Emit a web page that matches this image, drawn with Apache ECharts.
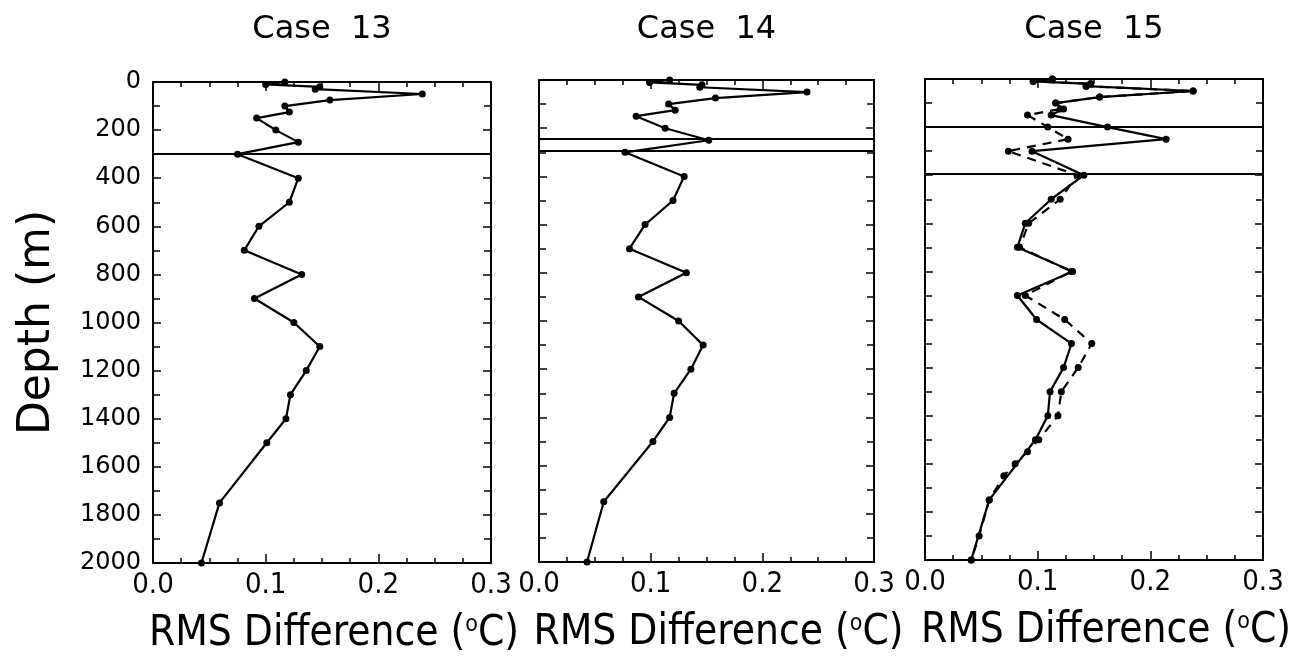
<!DOCTYPE html>
<html><head><meta charset="utf-8">
<script src="https://cdn.jsdelivr.net/npm/echarts@6/dist/echarts.min.js"></script>
<style>html,body{margin:0;padding:0;background:#fff}#c{width:1297px;height:664px}</style>
</head><body><div id="c"></div>
<script>
// ---- data ----
const titles = ['Case 13', 'Case 14', 'Case 15'];
const xTickLabels = ['0.0', '0.1', '0.2', '0.3'];
const yTickLabels = ['0', '200', '400', '600', '800', '1000', '1200', '1400', '1600', '1800', '2000'];
const depths = [0, 10, 20, 30, 50, 75, 100, 125, 150, 200, 250, 300, 400, 500, 600, 700, 800, 900, 1000, 1100, 1200, 1300, 1400, 1500, 1750, 2000];
const case13 = [0.117, 0.100, 0.148, 0.144, 0.239, 0.157, 0.117, 0.121, 0.092, 0.109, 0.129, 0.075, 0.129, 0.121, 0.094, 0.081, 0.132, 0.090, 0.125, 0.148, 0.136, 0.122, 0.118, 0.101, 0.059, 0.043];
const case14 = [0.117, 0.099, 0.146, 0.144, 0.240, 0.158, 0.116, 0.122, 0.087, 0.113, 0.152, 0.077, 0.130, 0.120, 0.095, 0.081, 0.132, 0.089, 0.125, 0.147, 0.136, 0.121, 0.117, 0.102, 0.058, 0.043];
const case15 = [0.113, 0.096, 0.147, 0.143, 0.238, 0.155, 0.116, 0.123, 0.112, 0.162, 0.214, 0.095, 0.141, 0.112, 0.089, 0.082, 0.131, 0.082, 0.099, 0.130, 0.123, 0.111, 0.109, 0.098, 0.057, 0.041];
const depths15b = [0, 10, 20, 30, 50, 75, 100, 125, 150, 200, 250, 300, 400, 500, 600, 700, 800, 900, 1000, 1100, 1200, 1300, 1400, 1500, 1550, 1600, 1650, 1750, 1900, 2000];
const case15b = [0.113, 0.096, 0.147, 0.143, 0.238, 0.155, 0.116, 0.120, 0.091, 0.109, 0.127, 0.074, 0.135, 0.120, 0.092, 0.084, 0.130, 0.089, 0.124, 0.148, 0.136, 0.121, 0.118, 0.101, 0.091, 0.080, 0.070, 0.057, 0.048, 0.041];
const bounds13 = [300];
const bounds14 = [245, 293];
const bounds15 = [200, 395];

// ---- layout ----
const grids = [
  {left: 153, top: 82, width: 338, height: 481},
  {left: 539, top: 80, width: 335, height: 482},
  {left: 925, top: 79, width: 338, height: 481}
].map(g => Object.assign(g, {containLabel: false, outerBoundsMode: 'none'}));
const narrow = "'Liberation Sans Narrow', 'DejaVu Sans Condensed', 'Arial Narrow', sans-serif";
const wide = "'DejaVu Sans', sans-serif";
const black = '#000';

const xAxes = [], yAxes = [];
grids.forEach((g, i) => {
  const common = {
    gridIndex: i, type: 'value', min: 0, max: 0.3, interval: 0.1,
    axisLine: {show: true, onZero: false, lineStyle: {color: black, width: 2}},
    axisTick: {show: true, inside: true, length: 9, lineStyle: {color: black, width: 1.5}},
    minorTick: {show: true, splitNumber: 4, length: 5, lineStyle: {color: black, width: 1.5}},
    splitLine: {show: false}
  };
  xAxes.push(Object.assign({}, common, {
    position: 'bottom',
    axisLabel: {show: true, color: black, fontSize: 29, fontFamily: narrow, margin: 8,
      formatter: (v, k) => xTickLabels[Math.round(v / 0.1)]},
    name: '{n|RMS Difference (}{s|o}{n|C)}',
    nameLocation: 'middle', nameGap: 50,
    nameTextStyle: {
      padding: [0, 0, 0, 24],
      rich: {
        n: {fontSize: 42, fontFamily: narrow, color: black},
        s: {fontSize: 23, fontFamily: narrow, color: black, padding: [0, 0, 17, 0]}
      }
    }
  }));
  xAxes.push(Object.assign({}, common, {position: 'top', axisLabel: {show: false}}));
  const ycommon = {
    gridIndex: i, type: 'value', inverse: true, min: 0, max: 2000, interval: 200,
    axisLine: {show: true, onZero: false, lineStyle: {color: black, width: 2}},
    axisTick: {show: true, inside: true, length: 8, lineStyle: {color: black, width: 1.5}},
    minorTick: {show: true, splitNumber: 2, length: 7, lineStyle: {color: black, width: 1.5}},
    splitLine: {show: false}
  };
  yAxes.push(Object.assign({}, ycommon, {
    position: 'left',
    axisLabel: {show: i === 0, color: black, fontSize: 24, fontFamily: wide, margin: 12,
      formatter: (v) => yTickLabels[Math.round(v / 200)]},
    name: i === 0 ? 'Depth (m)' : '',
    nameLocation: 'middle', nameGap: 93,
    nameTextStyle: {fontSize: 44, fontFamily: wide, color: black}
  }));
  yAxes.push(Object.assign({}, ycommon, {position: 'right', axisLabel: {show: false}}));
});

function profile(i, xs, ds, bounds, dashed) {
  const s = {
    type: 'line', xAxisIndex: 2 * i, yAxisIndex: 2 * i,
    data: ds.map((d, k) => [xs[k], d]),
    symbol: 'circle', symbolSize: 7, showSymbol: true,
    itemStyle: {color: black},
    lineStyle: {color: black, width: 2.2, type: dashed ? [9, 7] : 'solid'},
    z: dashed ? 3 : 4,
    animation: false
  };
  if (bounds) {
    s.markLine = {
      silent: true, symbol: ['none', 'none'], label: {show: false},
      lineStyle: {type: 'solid', color: black, width: 2},
      data: bounds.map(b => ({yAxis: b})),
      animation: false
    };
  }
  return s;
}

const graphics = titles.map((t, i) => ({
  type: 'text',
  x: grids[i].left + grids[i].width / 2,
  y: 30,
  style: {text: t.replace(' ', '  '), font: '32px ' + wide, fill: black, textAlign: 'center', textVerticalAlign: 'middle'}
}));

const chart = echarts.init(document.getElementById('c'), null, {renderer: 'canvas'});
chart.setOption({
  backgroundColor: '#fff',
  animation: false,
  grid: grids,
  xAxis: xAxes,
  yAxis: yAxes,
  graphic: graphics,
  series: [
    profile(0, case13, depths, bounds13, false),
    profile(1, case14, depths, bounds14, false),
    profile(2, case15, depths, bounds15, false),
    profile(2, case15b, depths15b, null, true)
  ]
});
</script></body></html>
